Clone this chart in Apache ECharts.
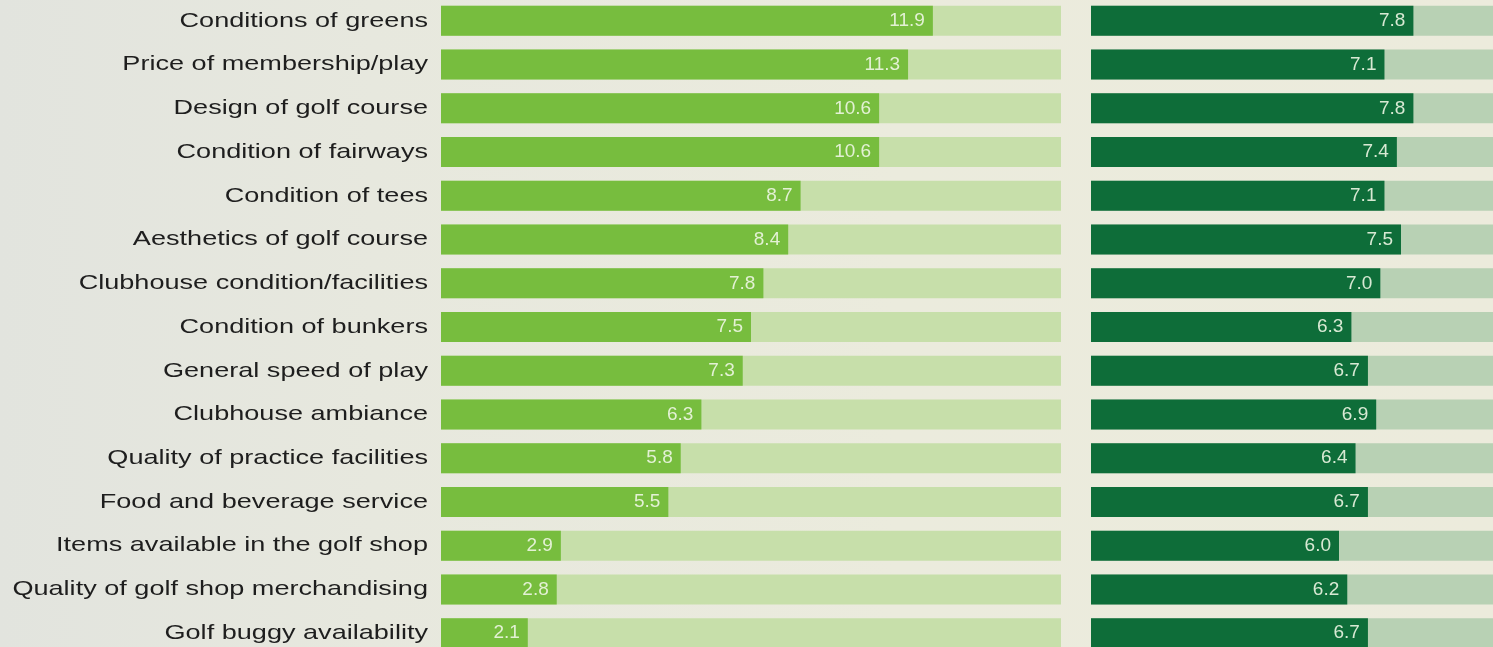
<!DOCTYPE html>
<html>
<head>
<meta charset="utf-8">
<script src="https://cdn.jsdelivr.net/npm/echarts@6/dist/echarts.min.js"></script>
<style>
html,body{margin:0;padding:0;}
#c{width:1493px;height:647px;background:linear-gradient(90deg,#e2e4de 0%,#e7e8de 25%,#ebebdd 60%,#ecebdc 100%);}
</style>
</head>
<body>
<div id="c"></div>
<script>
const categories = [
  "Conditions of greens",
  "Price of membership/play",
  "Design of golf course",
  "Condition of fairways",
  "Condition of tees",
  "Aesthetics of golf course",
  "Clubhouse condition/facilities",
  "Condition of bunkers",
  "General speed of play",
  "Clubhouse ambiance",
  "Quality of practice facilities",
  "Food and beverage service",
  "Items available in the golf shop",
  "Quality of golf shop merchandising",
  "Golf buggy availability"
];
const leftValues = [11.9, 11.3, 10.6, 10.6, 8.7, 8.4, 7.8, 7.5, 7.3, 6.3, 5.8, 5.5, 2.9, 2.8, 2.1];
const rightValues = [7.8, 7.1, 7.8, 7.4, 7.1, 7.5, 7.0, 6.3, 6.7, 6.9, 6.4, 6.7, 6.0, 6.2, 6.7];
const axisMax = 15;

const chart = echarts.init(document.getElementById('c'), null, {renderer: 'canvas'});
const valueLabel = {
  show: true,
  position: 'insideRight',
  distance: 8,
  color: 'rgba(238,246,228,0.9)',
  fontFamily: '"Liberation Sans", Arial, sans-serif',
  fontSize: 19,
  formatter: p => p.value.toFixed(1)
};
chart.setOption({
  backgroundColor: 'transparent',
  animation: false,
  grid: [
    {left: 441, top: -1, width: 620, height: 656, outerBoundsMode: 'none'},
    {left: 1091, top: -1, width: 620, height: 656, outerBoundsMode: 'none'}
  ],
  xAxis: [
    {gridIndex: 0, type: 'value', min: 0, max: axisMax, show: false},
    {gridIndex: 1, type: 'value', min: 0, max: axisMax, show: false}
  ],
  yAxis: [
    {gridIndex: 0, type: 'category', data: categories, inverse: true,
     axisLine: {show: false}, axisTick: {show: false}, axisLabel: {show: false}},
    {gridIndex: 1, type: 'category', data: categories, inverse: true, show: false}
  ],
  series: [
    {type: 'bar', xAxisIndex: 0, yAxisIndex: 0, data: leftValues, barWidth: 30,
     itemStyle: {color: '#77bd3e'},
     showBackground: true, backgroundStyle: {color: '#c7dfaa'},
     label: valueLabel},
    {type: 'bar', xAxisIndex: 1, yAxisIndex: 1, data: rightValues, barWidth: 30,
     itemStyle: {color: '#0e6d39'},
     showBackground: true, backgroundStyle: {color: '#b8d1b4'},
     label: valueLabel}
  ]
});

// category labels, positioned from the category axis scale
const labelRight = chart.convertToPixel({xAxisIndex: 0}, 0) - 13;
chart.setOption({
  graphic: categories.map(c => ({
    type: 'text',
    x: labelRight,
    y: chart.convertToPixel({yAxisIndex: 0}, c),
    scaleX: 1.29,
    style: {
      text: c,
      align: 'right',
      verticalAlign: 'middle',
      fill: '#1e1e1e',
      fontSize: 21,
      fontFamily: '"Liberation Sans", Arial, Helvetica, sans-serif'
    }
  }))
});
</script>
</body>
</html>
